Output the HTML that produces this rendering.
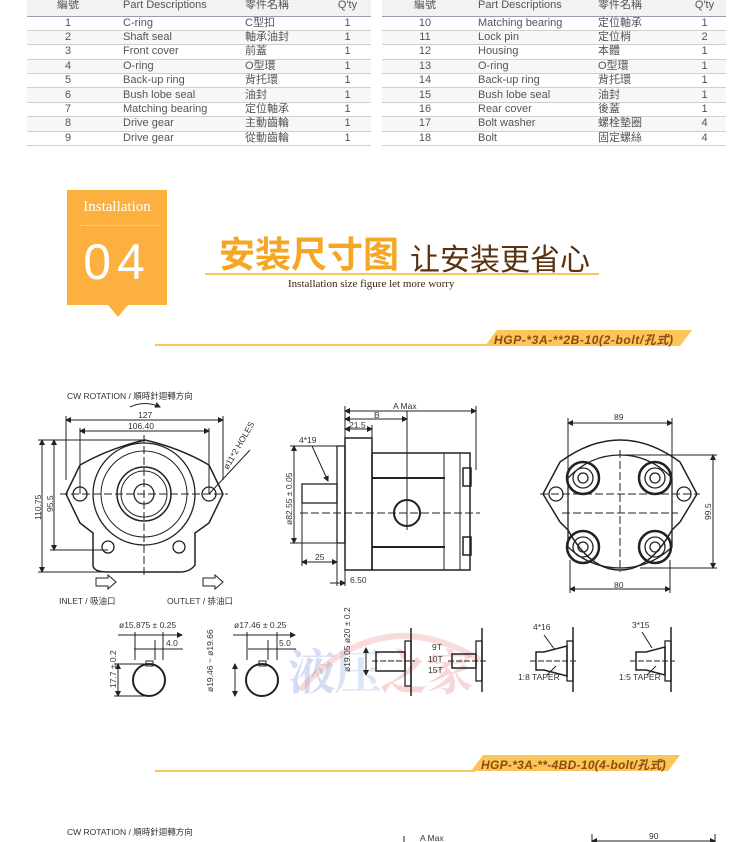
<!DOCTYPE html>
<html><head><meta charset="utf-8"><style>
*{margin:0;padding:0;box-sizing:border-box}
body{width:750px;height:842px;background:#fff;position:relative;overflow:hidden;font-family:"Liberation Sans","Noto Sans CJK TC",sans-serif}
.t{position:absolute;white-space:nowrap}
table{position:absolute;border-collapse:collapse;font-size:11px;color:#555}
td{height:14.4px;line-height:13px;border-bottom:1px solid #cfcfcf;padding:0}
tr.h td{height:20px;background:#f2f2f2;border-bottom:1.5px solid #9a9cb0;vertical-align:bottom;line-height:12px;padding-bottom:5px}
tr:nth-child(odd):not(.h) td{background:#f7f7f7}
</style></head><body>

<table style="left:27px;top:-4px;width:344px">
<tr class="h"><td style="width:82px;text-align:center">編號</td><td style="width:120px;padding-left:14px">Part Descriptions</td><td style="width:95px;padding-left:16px">零件名稱</td><td style="text-align:center">Q'ty</td></tr>
<tr><td align="center">1</td><td style="padding-left:14px">C-ring</td><td style="padding-left:16px">C型扣</td><td align="center">1</td></tr>
<tr><td align="center">2</td><td style="padding-left:14px">Shaft seal</td><td style="padding-left:16px">軸承油封</td><td align="center">1</td></tr>
<tr><td align="center">3</td><td style="padding-left:14px">Front cover</td><td style="padding-left:16px">前蓋</td><td align="center">1</td></tr>
<tr><td align="center">4</td><td style="padding-left:14px">O-ring</td><td style="padding-left:16px">O型環</td><td align="center">1</td></tr>
<tr><td align="center">5</td><td style="padding-left:14px">Back-up ring</td><td style="padding-left:16px">背托環</td><td align="center">1</td></tr>
<tr><td align="center">6</td><td style="padding-left:14px">Bush lobe seal</td><td style="padding-left:16px">油封</td><td align="center">1</td></tr>
<tr><td align="center">7</td><td style="padding-left:14px">Matching bearing</td><td style="padding-left:16px">定位軸承</td><td align="center">1</td></tr>
<tr><td align="center">8</td><td style="padding-left:14px">Drive gear</td><td style="padding-left:16px">主動齒輪</td><td align="center">1</td></tr>
<tr><td align="center">9</td><td style="padding-left:14px">Drive gear</td><td style="padding-left:16px">從動齒輪</td><td align="center">1</td></tr>
</table>

<table style="left:382px;top:-4px;width:344px">
<tr class="h"><td style="width:86px;text-align:center">編號</td><td style="width:120px;padding-left:10px">Part Descriptions</td><td style="width:95px;padding-left:10px">零件名稱</td><td style="text-align:center">Q'ty</td></tr>
<tr><td align="center">10</td><td style="padding-left:10px">Matching bearing</td><td style="padding-left:10px">定位軸承</td><td align="center">1</td></tr>
<tr><td align="center">11</td><td style="padding-left:10px">Lock pin</td><td style="padding-left:10px">定位梢</td><td align="center">2</td></tr>
<tr><td align="center">12</td><td style="padding-left:10px">Housing</td><td style="padding-left:10px">本體</td><td align="center">1</td></tr>
<tr><td align="center">13</td><td style="padding-left:10px">O-ring</td><td style="padding-left:10px">O型環</td><td align="center">1</td></tr>
<tr><td align="center">14</td><td style="padding-left:10px">Back-up ring</td><td style="padding-left:10px">背托環</td><td align="center">1</td></tr>
<tr><td align="center">15</td><td style="padding-left:10px">Bush lobe seal</td><td style="padding-left:10px">油封</td><td align="center">1</td></tr>
<tr><td align="center">16</td><td style="padding-left:10px">Rear cover</td><td style="padding-left:10px">後蓋</td><td align="center">1</td></tr>
<tr><td align="center">17</td><td style="padding-left:10px">Bolt washer</td><td style="padding-left:10px">螺栓墊圈</td><td align="center">4</td></tr>
<tr><td align="center">18</td><td style="padding-left:10px">Bolt</td><td style="padding-left:10px">固定螺絲</td><td align="center">4</td></tr>
</table>

<!-- orange badge -->
<div style="position:absolute;left:67px;top:190px;width:100px;height:115px;background:#fbb040"></div>
<div style="position:absolute;left:108px;top:305px;width:0;height:0;border-left:10px solid transparent;border-right:10px solid transparent;border-top:12px solid #fbb040"></div>
<div class="t" style="left:67px;top:199px;width:100px;text-align:center;color:#fff;font:15px 'Liberation Serif',serif">Installation</div>
<div style="position:absolute;left:80px;top:225px;width:80px;border-top:1px dotted #fde0b0"></div>
<div class="t" style="left:67px;top:233px;width:100px;text-align:center;color:#fff;font:50px 'Liberation Sans',sans-serif;letter-spacing:6px">04</div>

<div class="t" style="left:219px;top:230px;color:#f5a623;font:bold 36px 'Noto Sans CJK SC',sans-serif;line-height:44px">安装尺寸图</div>
<div class="t" style="left:410px;top:239px;color:#5a3210;font:30px 'Noto Sans CJK SC',sans-serif;line-height:36px">让安装更省心</div>
<div style="position:absolute;left:205px;top:273px;width:394px;height:2px;background:#fbc55a"></div>
<div class="t" style="left:288px;top:278px;color:#3a2510;font:11px 'Liberation Serif',serif">Installation size figure let more worry</div>

<!-- banner 1 -->
<div style="position:absolute;left:155px;top:344px;width:340px;height:1.5px;background:#fbc55a"></div>
<svg style="position:absolute;left:0;top:0" width="750" height="842">
<polygon points="497,330 692,330 680,346 485,346" fill="#fbc55a"/>
<polygon points="483,755 680,755 668,771 471,771" fill="#fbc55a"/>
</svg>
<div style="position:absolute;left:155px;top:770px;width:320px;height:1.5px;background:#fbc55a"></div>
<div class="t" style="left:494px;top:331px;color:#8a4a10;font:italic bold 12px 'Liberation Sans','Noto Sans CJK SC',sans-serif;letter-spacing:0.6px">HGP-*3A-**2B-10(2-bolt/孔式)</div>
<div class="t" style="left:481px;top:756px;color:#8a4a10;font:italic bold 12px 'Liberation Sans','Noto Sans CJK SC',sans-serif;letter-spacing:0.3px">HGP-*3A-**-4BD-10(4-bolt/孔式)</div>

<!-- watermark -->
<div class="t" style="left:288px;top:634px;font:bold 48px 'Noto Serif CJK SC',serif;opacity:.25;letter-spacing:-2px"><span style="color:#5577cc">液</span><span style="color:#7799dd">压</span><span style="color:#e06060">之家</span></div>
<svg style="position:absolute;left:0;top:0" width="750" height="842">
<path d="M300,690 Q380,600 480,660" fill="none" stroke="#e88" stroke-width="6" opacity=".3"/>
</svg>

<svg style="position:absolute;left:0;top:0" width="750" height="842" font-family="Liberation Sans,Noto Sans CJK TC,sans-serif" fill="none" stroke="#222" stroke-width="1">
<defs><marker id="a" markerWidth="6" markerHeight="6" refX="5" refY="3" orient="auto-start-reverse"><path d="M0,0L6,3L0,6z" fill="#222" stroke="none"/></marker></defs>
<g fill="#333" stroke="none" font-size="8.5">
<text x="67" y="399">CW ROTATION / 順時針迴轉方向</text>
<text x="138" y="418">127</text>
<text x="128" y="429">106.40</text>
<text x="59" y="604">INLET / 吸油口</text>
<text x="167" y="604">OUTLET / 排油口</text>
<text transform="translate(41,520) rotate(-90)">110.75</text>
<text transform="translate(53,512) rotate(-90)">95.5</text>
<text transform="translate(228,470) rotate(-60)">ø11*2 HOLES</text>
<text x="393" y="409">A Max</text>
<text x="374" y="418">B</text>
<text x="349" y="428">21.5</text>
<text x="299" y="443">4*19</text>
<text transform="translate(292,525) rotate(-90)">ø82.55 ± 0.05</text>
<text x="315" y="560">25</text>
<text x="350" y="583">6.50</text>
<text x="614" y="420">89</text>
<text x="614" y="588">80</text>
<text transform="translate(711,520) rotate(-90)">99.5</text>
<text x="119" y="628">ø15.875 ± 0.25</text>
<text x="166" y="646">4.0</text>
<text transform="translate(116,688) rotate(-90)">17.7 ± 0.2</text>
<text x="234" y="628">ø17.46 ± 0.25</text>
<text x="279" y="646">5.0</text>
<text transform="translate(213,692) rotate(-90)">ø19.46 ~ ø19.66</text>
<text transform="translate(350,672) rotate(-90)">ø19.05 ø20 ± 0.2</text>
<text x="432" y="650">9T</text>
<text x="428" y="662">10T</text>
<text x="428" y="673">15T</text>
<text x="533" y="630">4*16</text>
<text x="518" y="680">1:8 TAPER</text>
<text x="632" y="628">3*15</text>
<text x="619" y="680">1:5 TAPER</text>
<text x="67" y="835">CW ROTATION / 順時針迴轉方向</text>
<text x="420" y="841">A Max</text>
<text x="649" y="839">90</text>
</g>
<!-- left view -->
<path d="M130,407 Q145,400 160,407" marker-end="url(#a)"/>
<line x1="66" y1="420" x2="223" y2="420" marker-start="url(#a)" marker-end="url(#a)"/>
<line x1="80" y1="431" x2="209" y2="431" marker-start="url(#a)" marker-end="url(#a)"/>
<line x1="66" y1="416" x2="66" y2="480"/><line x1="223" y1="416" x2="223" y2="480"/>
<line x1="80" y1="428" x2="80" y2="494"/><line x1="209" y1="428" x2="209" y2="494"/>
<line x1="42" y1="440" x2="42" y2="572" marker-start="url(#a)" marker-end="url(#a)"/>
<line x1="54" y1="440" x2="54" y2="550" marker-start="url(#a)" marker-end="url(#a)"/>
<line x1="38" y1="440" x2="145" y2="440"/><line x1="38" y1="572" x2="140" y2="572"/><line x1="50" y1="550" x2="108" y2="550"/>
<path d="M66,494 L80,465 Q110,448 145,440 Q180,448 209,465 L223,494 L209,523 L195,533 L195,565 Q190,572 180,572 L108,572 Q93,572 93,565 L93,533 L80,523 Z" stroke-width="1.5"/>
<circle cx="144" cy="494" r="51" stroke-width="1.3"/><circle cx="144" cy="494" r="43"/><circle cx="144" cy="494" r="27" stroke-width="1.5"/><circle cx="144" cy="494" r="23"/><circle cx="144" cy="494" r="10" stroke-width="1.3"/>
<circle cx="80" cy="494" r="7" stroke-width="1.3"/><circle cx="209" cy="494" r="7" stroke-width="1.3"/>
<circle cx="108" cy="547" r="6" stroke-width="1.3"/><circle cx="179" cy="547" r="6" stroke-width="1.3"/>
<line x1="60" y1="494" x2="228" y2="494" stroke-dasharray="8,3"/><line x1="144" y1="435" x2="144" y2="575" stroke-dasharray="8,3"/>
<line x1="209" y1="494" x2="250" y2="450"/>
<path d="M96,578 h12 v-3 l8,7 l-8,7 v-3 h-12z"/><path d="M203,578 h12 v-3 l8,7 l-8,7 v-3 h-12z"/>
<!-- middle view -->
<line x1="345" y1="411" x2="476" y2="411" marker-start="url(#a)" marker-end="url(#a)"/>
<line x1="345" y1="419" x2="407" y2="419" marker-start="url(#a)" marker-end="url(#a)"/>
<line x1="345" y1="429" x2="372" y2="429" marker-start="url(#a)" marker-end="url(#a)"/>
<line x1="345" y1="406" x2="345" y2="438"/><line x1="476" y1="406" x2="476" y2="470"/><line x1="372" y1="425" x2="372" y2="438"/>
<rect x="337" y="446" width="8" height="97" stroke-width="1.3"/>
<rect x="345" y="438" width="27" height="132" stroke-width="1.5"/>
<rect x="372" y="453" width="98" height="117" stroke-width="1.5"/>
<line x1="372" y1="478" x2="445" y2="478" stroke-width="2"/><line x1="372" y1="547" x2="445" y2="547" stroke-width="2"/>
<line x1="444" y1="453" x2="444" y2="570"/><line x1="460" y1="453" x2="460" y2="570"/>
<rect x="463" y="468" width="8" height="18" stroke-width="1.5"/><rect x="463" y="537" width="8" height="18" stroke-width="1.5"/>
<rect x="302" y="484" width="35" height="19" stroke-width="1.3"/>
<circle cx="407" cy="513" r="13" stroke-width="2"/>
<line x1="300" y1="513" x2="480" y2="513" stroke-dasharray="8,3"/><line x1="407" y1="411" x2="407" y2="530"/>
<line x1="294" y1="446" x2="294" y2="543" marker-start="url(#a)" marker-end="url(#a)"/>
<line x1="290" y1="446" x2="337" y2="446"/><line x1="290" y1="543" x2="337" y2="543"/>
<line x1="302" y1="562" x2="337" y2="562" marker-start="url(#a)" marker-end="url(#a)"/>
<line x1="302" y1="503" x2="302" y2="566"/><line x1="337" y1="543" x2="337" y2="586"/>
<line x1="330" y1="583" x2="345" y2="583" marker-end="url(#a)"/><line x1="345" y1="570" x2="345" y2="586"/>
<line x1="312" y1="446" x2="328" y2="481" marker-end="url(#a)"/>
<!-- right view -->
<line x1="568" y1="423" x2="672" y2="423" marker-start="url(#a)" marker-end="url(#a)"/>
<line x1="568" y1="418" x2="568" y2="480"/><line x1="672" y1="418" x2="672" y2="480"/>
<line x1="570" y1="589" x2="670" y2="589" marker-start="url(#a)" marker-end="url(#a)"/>
<line x1="570" y1="560" x2="570" y2="593"/><line x1="670" y1="560" x2="670" y2="593"/>
<line x1="713" y1="455" x2="713" y2="568" marker-start="url(#a)" marker-end="url(#a)"/>
<line x1="620" y1="455" x2="717" y2="455"/><line x1="640" y1="568" x2="717" y2="568"/>
<path d="M543,494 L560,462 Q590,440 620,440 Q650,440 680,462 L697,494 L680,522 L672,530 Q650,570 620,570 Q590,570 568,530 L560,522 Z" stroke-width="1.5"/>
<path d="M568,478 Q590,455 620,455 Q650,455 672,478 L672,547 Q650,568 620,568 Q590,568 568,547 Z" stroke-width="1.3"/>
<circle cx="556" cy="494" r="7" stroke-width="1.3"/><circle cx="684" cy="494" r="7" stroke-width="1.3"/>
<g stroke-width="1.3">
<circle cx="583" cy="478" r="16" stroke-width="2.5"/><circle cx="583" cy="478" r="10"/><circle cx="583" cy="478" r="5"/>
<circle cx="655" cy="478" r="16" stroke-width="2.5"/><circle cx="655" cy="478" r="10"/><circle cx="655" cy="478" r="5"/>
<circle cx="583" cy="547" r="16" stroke-width="2.5"/><circle cx="583" cy="547" r="10"/><circle cx="583" cy="547" r="5"/>
<circle cx="655" cy="547" r="16" stroke-width="2.5"/><circle cx="655" cy="547" r="10"/><circle cx="655" cy="547" r="5"/>
</g>
<line x1="540" y1="494" x2="700" y2="494" stroke-dasharray="8,3"/><line x1="562" y1="513" x2="678" y2="513" stroke-dasharray="8,3"/><line x1="620" y1="450" x2="620" y2="572" stroke-dasharray="8,3"/>
<!-- bottom row -->
<line x1="118" y1="635" x2="182" y2="635" marker-end="url(#a)"/><line x1="134" y1="649" x2="183" y2="649"/>
<line x1="135" y1="632" x2="135" y2="660"/><line x1="163" y1="632" x2="163" y2="660"/><line x1="155" y1="640" x2="155" y2="660"/>
<circle cx="149" cy="680" r="16" stroke-width="2"/><rect x="146" y="661" width="7" height="5"/>
<line x1="118" y1="664" x2="118" y2="696" marker-start="url(#a)" marker-end="url(#a)"/><line x1="114" y1="664" x2="150" y2="664"/><line x1="114" y1="696" x2="150" y2="696"/>
<line x1="233" y1="635" x2="295" y2="635" marker-end="url(#a)"/><line x1="248" y1="649" x2="296" y2="649"/>
<line x1="247" y1="632" x2="247" y2="660"/><line x1="277" y1="632" x2="277" y2="660"/><line x1="268" y1="640" x2="268" y2="660"/>
<circle cx="262" cy="680" r="16" stroke-width="2"/><rect x="259" y="661" width="7" height="5"/>
<line x1="235" y1="664" x2="235" y2="696" marker-start="url(#a)" marker-end="url(#a)"/>
<rect x="405" y="641" width="6" height="45" stroke-width="1.3"/><line x1="411" y1="628" x2="411" y2="696" stroke-width="1.5"/>
<rect x="376" y="652" width="29" height="19" stroke-width="1.5"/><line x1="372" y1="661" x2="415" y2="661" stroke-dasharray="6,2"/>
<line x1="366" y1="648" x2="366" y2="675" marker-start="url(#a)" marker-end="url(#a)"/>
<rect x="476" y="641" width="6" height="40" stroke-width="1.3"/><line x1="482" y1="628" x2="482" y2="692" stroke-width="1.5"/>
<rect x="452" y="654" width="24" height="14" stroke-width="1.5"/><line x1="448" y1="661" x2="488" y2="661" stroke-dasharray="6,2"/>
<rect x="567" y="641" width="6" height="40" stroke-width="1.3"/><line x1="573" y1="627" x2="573" y2="692" stroke-width="1.5"/>
<path d="M536,652 h8 l23,-6 v30 l-23,-6 h-8z" stroke-width="1.5"/><line x1="530" y1="661" x2="578" y2="661" stroke-dasharray="6,2"/>
<line x1="544" y1="635" x2="555" y2="650"/><line x1="547" y1="675" x2="556" y2="666"/>
<rect x="665" y="641" width="6" height="40" stroke-width="1.3"/><line x1="671" y1="627" x2="671" y2="692" stroke-width="1.5"/>
<path d="M636,652 h10 l19,-5 v28 l-19,-5 h-10z" stroke-width="1.5"/><line x1="630" y1="661" x2="675" y2="661" stroke-dasharray="6,2"/>
<line x1="642" y1="632" x2="652" y2="648"/><line x1="647" y1="675" x2="656" y2="666"/>
<!-- bottom partial -->
<line x1="404" y1="842" x2="404" y2="836"/><line x1="592" y1="841" x2="715" y2="841" marker-start="url(#a)" marker-end="url(#a)"/>
<line x1="592" y1="834" x2="592" y2="842"/><line x1="715" y1="834" x2="715" y2="842"/>
</svg>
</body></html>
